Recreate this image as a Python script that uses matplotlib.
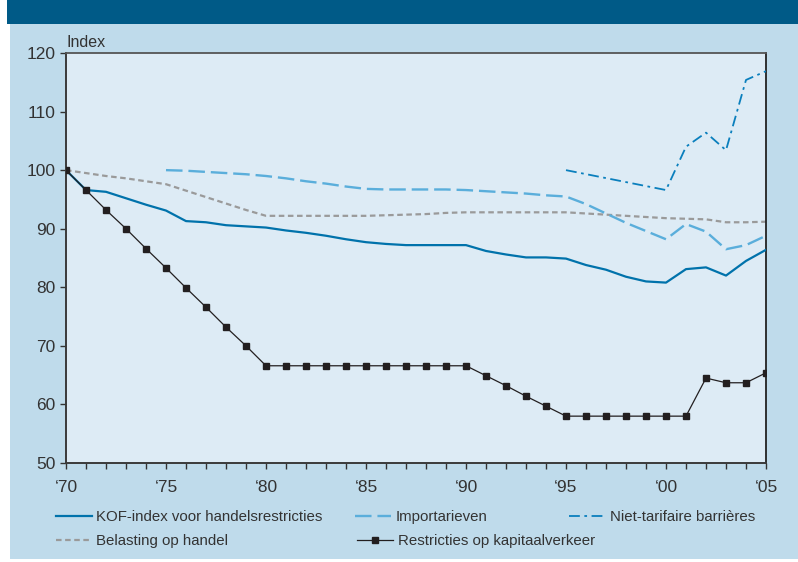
import matplotlib
matplotlib.use("Agg")
import matplotlib.pyplot as plt
from matplotlib.patches import Rectangle
from matplotlib.ticker import MultipleLocator, FixedLocator

plt.rcParams['font.family'] = ['Liberation Sans', 'DejaVu Sans']

years = list(range(1970, 2006))

kof = [100, 96.6, 96.3, 95.2, 94.1, 93.1, 91.3, 91.1, 90.6, 90.4,
       90.2, 89.7, 89.3, 88.8, 88.2, 87.7, 87.4, 87.2, 87.2, 87.2,
       87.2, 86.2, 85.6, 85.1, 85.1, 84.9, 83.8, 83.0, 81.8, 81.0,
       80.8, 83.1, 83.4, 82.0, 84.5, 86.4]

import_years = list(range(1975, 2006))
importarieven = [100, 99.9, 99.7, 99.5, 99.3, 99.0, 98.6, 98.1, 97.7, 97.2,
                 96.8, 96.7, 96.7, 96.7, 96.7, 96.6, 96.4, 96.2, 96.0, 95.7,
                 95.5, 94.2, 92.6, 91.0, 89.6, 88.2, 90.8, 89.5, 86.5, 87.2,
                 88.8]

ntb_years = [1995, 2000, 2001, 2002, 2003, 2004, 2005]
niet_tarifair = [100.0, 96.6, 104.0, 106.4, 103.4, 115.4, 116.9]

belasting = [100, 99.5, 99.0, 98.6, 98.1, 97.6, 96.5, 95.4, 94.3, 93.2,
             92.2, 92.2, 92.2, 92.2, 92.2, 92.2, 92.3, 92.4, 92.5, 92.7,
             92.8, 92.8, 92.8, 92.8, 92.8, 92.8, 92.6, 92.4, 92.2, 92.0,
             91.8, 91.7, 91.6, 91.1, 91.1, 91.2]

kapitaal = [100, 96.6, 93.2, 90.0, 86.6, 83.3, 79.9, 76.6, 73.2, 70.0,
            66.6, 66.6, 66.6, 66.6, 66.6, 66.6, 66.6, 66.6, 66.6, 66.6,
            66.6, 64.9, 63.2, 61.4, 59.7, 58.0, 58.0, 58.0, 58.0, 58.0,
            58.0, 58.0, 64.5, 63.7, 63.7, 65.4]

x_major = [1970, 1975, 1980, 1985, 1990, 1995, 2000, 2005]
x_labels = ["\u201870", "\u201875", "\u201880", "\u201885", "\u201890", "\u201895", "\u201800", "\u201805"]
y_ticks = [50, 60, 70, 80, 90, 100, 110, 120]

labels = ["KOF-index voor handelsrestricties", "Importarieven", "Niet-tarifaire barrières",
          "Belasting op handel", "Restricties op kapitaalverkeer"]

c_outer = "#bfdbeb"
c_plot = "#ddebf5"
c_header = "#005a87"
c_kof = "#0072ab"
c_imp = "#5aaedb"
c_ntb = "#0a7fbd"
c_grey = "#9a9a9a"
c_black = "#231f20"
c_text = "#333333"

fig = plt.figure(figsize=(7.98, 5.62), dpi=100)
fig.patch.set_facecolor(c_outer)
fig.patches.append(Rectangle((0, 0), 10/798, 1, transform=fig.transFigure,
                             facecolor="white", edgecolor="none", zorder=0))
fig.patches.append(Rectangle((0, 0), 1, 3/562, transform=fig.transFigure,
                             facecolor="white", edgecolor="none", zorder=0))
fig.patches.append(Rectangle((7/798, 1 - 24/562), 1, 24/562, transform=fig.transFigure,
                             facecolor=c_header, edgecolor="none", zorder=1))

ax = fig.add_axes([66/798, 1 - 463/562, 700/798, 410/562])
ax.set_facecolor(c_plot)

l1, = ax.plot(years, kof, color=c_kof, lw=1.6, solid_joinstyle='round', zorder=4)
l2, = ax.plot(import_years, importarieven, color=c_imp, lw=1.7, dashes=(7, 2.5), zorder=3)
l3, = ax.plot(ntb_years, niet_tarifair, color=c_ntb, lw=1.3, dashes=(6, 2.5, 1.5, 2.5), zorder=3)
l4, = ax.plot(years, belasting, color=c_grey, lw=1.6, dashes=(2.5, 1.6), zorder=2)
l5, = ax.plot(years, kapitaal, color=c_black, lw=0.9, marker='s', markersize=5,
              markerfacecolor=c_black, markeredgecolor=c_black, zorder=5)

ax.set_xlim(1970, 2005)
ax.set_ylim(50, 120)
ax.xaxis.set_major_locator(FixedLocator(x_major))
ax.set_xticklabels(x_labels)
ax.xaxis.set_minor_locator(MultipleLocator(1))
ax.set_yticks(y_ticks)
ax.tick_params(axis='both', which='both', direction='out', colors=c_text, labelsize=12.5,
               length=4.5, width=1.0)
ax.tick_params(axis='x', which='major', pad=8)
ax.tick_params(axis='y', pad=3)
ax.tick_params(right=False, top=False)
for side in ['left', 'bottom']:
    ax.spines[side].set_color("#3a3a3a")
    ax.spines[side].set_linewidth(1.4)
ax.spines['top'].set_color("#555555")
ax.spines['top'].set_linewidth(1.3)
ax.spines['right'].set_color("#222222")
ax.spines['right'].set_linewidth(1.3)

ax.text(0.0, 1.008, "Index", transform=ax.transAxes, ha='left', va='bottom',
        fontsize=11.5, color=c_text)

handles = [l1, l2, l3, l4, l5]
positions = [(56, 517), (355, 517), (569, 517), (56, 541), (357, 541)]
for h, lab, (px, py) in zip(handles, labels, positions):
    fig.legend([h], [lab], loc='center left',
               bbox_to_anchor=(px/798, 1 - py/562), frameon=False,
               fontsize=10.8, handlelength=2.4, handletextpad=0.3,
               borderaxespad=0, borderpad=0, labelcolor=c_text, markerscale=0.8)

fig.savefig("out.png", dpi=100, facecolor=fig.get_facecolor())
